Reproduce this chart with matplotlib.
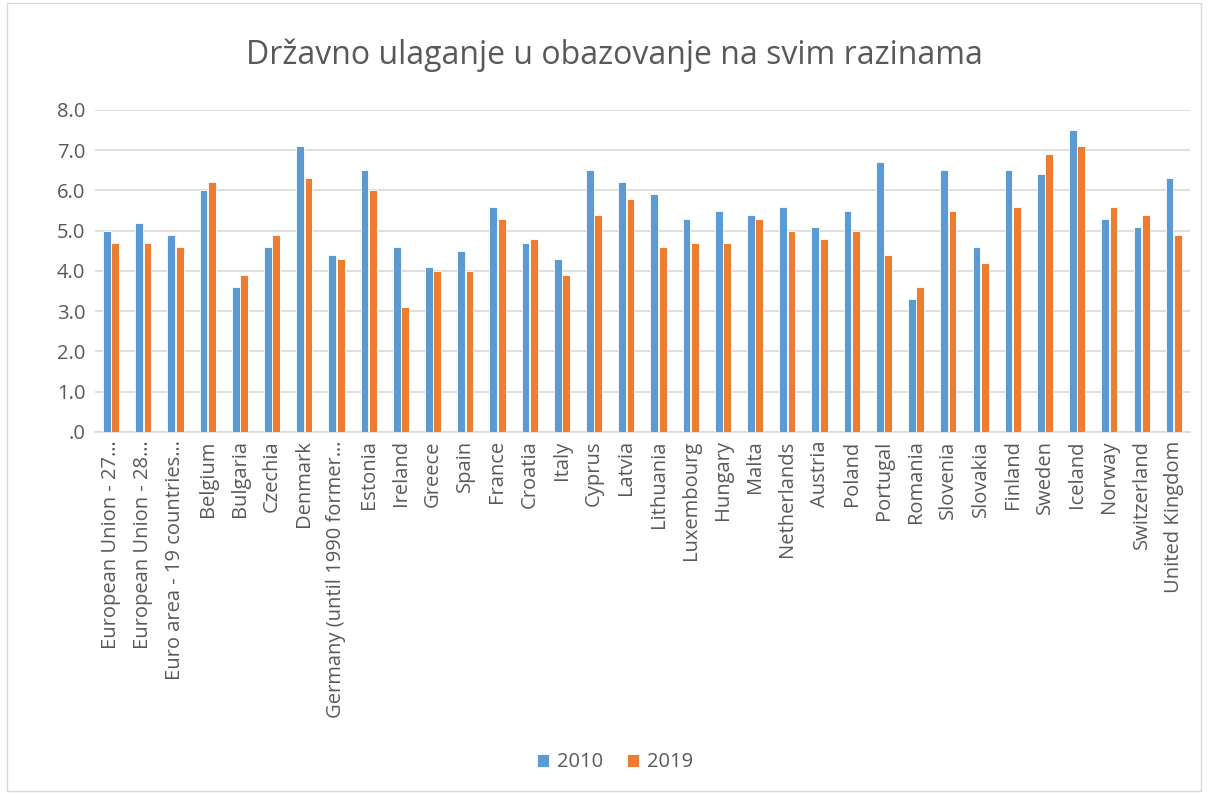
import matplotlib
matplotlib.use("Agg")
import matplotlib.pyplot as plt
from matplotlib.patches import Rectangle
import numpy as np

countries = ["European Union - 27\u2026", "European Union - 28\u2026", "Euro area - 19 countries\u2026",
             "Belgium", "Bulgaria", "Czechia", "Denmark", "Germany (until 1990 former\u2026",
             "Estonia", "Ireland", "Greece", "Spain", "France", "Croatia", "Italy", "Cyprus",
             "Latvia", "Lithuania", "Luxembourg", "Hungary", "Malta", "Netherlands", "Austria",
             "Poland", "Portugal", "Romania", "Slovenia", "Slovakia", "Finland", "Sweden",
             "Iceland", "Norway", "Switzerland", "United Kingdom"]
val_2010 = [5.0, 5.2, 4.9, 6.0, 3.6, 4.6, 7.1, 4.4, 6.5, 4.6, 4.1, 4.5, 5.6, 4.7, 4.3, 6.5,
            6.2, 5.9, 5.3, 5.5, 5.4, 5.6, 5.1, 5.5, 6.7, 3.3, 6.5, 4.6, 6.5, 6.4, 7.5, 5.3,
            5.1, 6.3]
val_2019 = [4.7, 4.7, 4.6, 6.2, 3.9, 4.9, 6.3, 4.3, 6.0, 3.1, 4.0, 4.0, 5.3, 4.8, 3.9, 5.4,
            5.8, 4.6, 4.7, 4.7, 5.3, 5.0, 4.8, 5.0, 4.4, 3.6, 5.5, 4.2, 5.6, 6.9, 7.1, 5.6,
            5.4, 4.9]
yticks = [0, 1, 2, 3, 4, 5, 6, 7, 8]

plt.rcParams['font.family'] = ['Open Sans', 'DejaVu Sans']
TXT = "#595959"
BLUE = "#5B9BD5"
ORANGE = "#ED7D31"

fig = plt.figure(figsize=(12.08, 7.94), dpi=100)
ax = fig.add_axes([0.0786, 0.456, 0.9064, 0.4055])

x = np.arange(len(countries))
w = 0.24
ax.bar(x - 0.13, val_2010, w, color=BLUE, edgecolor="white", linewidth=0.6, label="2010", zorder=3)
ax.bar(x + 0.13, val_2019, w, color=ORANGE, edgecolor="white", linewidth=0.6, label="2019", zorder=3)

ax.set_xlim(-0.5, len(countries) - 0.5)
ax.set_ylim(0, 8)
ax.set_yticks(yticks)
ax.set_yticklabels([("%.1f" % v) if v != 0 else ".0" for v in yticks])
ax.set_xticks(x)
ax.set_xticklabels(countries, rotation=90)
ax.tick_params(axis="both", length=0, colors=TXT, labelsize=14.5)
ax.tick_params(axis="y", pad=7)
ax.tick_params(axis="x", pad=6)
ax.grid(axis="y", color="#D9D9D9", linewidth=1.2, zorder=0)
for s in ["top", "right", "left"]:
    ax.spines[s].set_visible(False)
ax.spines["bottom"].set_color("#D9D9D9")
ax.spines["bottom"].set_linewidth(1.2)

fig.text(0.509, 0.93, "Dr\u017eavno ulaganje u obazovanje na svim razinama", ha="center", va="center",
         fontsize=23, color=TXT)

leg = fig.legend(loc="center", bbox_to_anchor=(0.509, 0.04), ncol=2, frameon=False,
                 fontsize=14.5, handlelength=0.6, handleheight=0.6, handletextpad=0.4, columnspacing=1.2)
for t in leg.get_texts():
    t.set_color(TXT)

fig.patches.append(Rectangle((0.006, 0.004), 0.988, 0.992, transform=fig.transFigure,
                             fill=False, edgecolor="#D9D9D9", linewidth=1.0))

fig.savefig("out.png", dpi=100)
